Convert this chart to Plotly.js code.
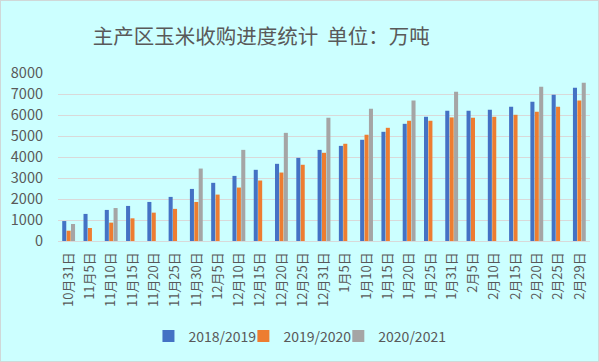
<!DOCTYPE html>
<html>
<head>
<meta charset="utf-8">
<script src="https://cdn.plot.ly/plotly-3.0.1.min.js"></script>
<style>
html,body{margin:0;padding:0;background:#ccffff;}
#chart{width:599px;height:362px;box-sizing:border-box;border:1px solid #d0d8d8;}
</style>
</head>
<body>
<div id="chart"></div>
<script>
const categories = ["10月31日","11月5日","11月10日","11月15日","11月20日","11月25日","11月30日","12月5日","12月10日","12月15日","12月20日","12月25日","12月31日","1月5日","1月10日","1月15日","1月20日","1月25日","1月31日","2月5日","2月10日","2月15日","2月20日","2月25日","2月29日"];
const s2018 = [950,1290,1480,1670,1860,2100,2480,2770,3100,3390,3675,3960,4340,4530,4820,5200,5580,5915,6200,6200,6250,6390,6630,6965,7300];
const s2019 = [490,620,875,1080,1350,1530,1860,2210,2545,2880,3260,3630,4200,4630,5060,5390,5725,5725,5885,5870,5915,6010,6150,6390,6690];
const s2020 = [810,null,1570,null,null,null,3450,null,4340,null,5150,null,5870,null,6300,null,6690,null,7110,null,null,null,7350,null,7540];
const seriesNames = ["2018/2019","2019/2020","2020/2021"];
const colors = ["#4472C4","#ED7D31","#A5A5A5"];

const font = "'Noto Sans CJK SC', 'Noto Sans', sans-serif";
const legendIds = ["legend","legend2","legend3"];
const traces = [s2018, s2019, s2020].map((v, i) => ({
  type: "bar",
  x: categories,
  y: v,
  name: seriesNames[i],
  legend: legendIds[i],
  marker: {color: colors[i]},
  hoverinfo: "x+y+name"
}));

const legendX = [0.247, 0.406, 0.565];
function mkLegend(x) {
  return {
    orientation: "h",
    x: x, xanchor: "left", xref: "container",
    y: 0.068, yanchor: "middle", yref: "container",
    font: {size: 14, color: "#595959"},
    itemwidth: 30,
    bgcolor: "rgba(0,0,0,0)"
  };
}

const layout = {
  width: 597, height: 360,
  paper_bgcolor: "#ccffff",
  plot_bgcolor: "#ccffff",
  margin: {l: 57, r: 8, t: 72, b: 120},
  font: {family: font, color: "#595959"},
  title: {
    text: "主产区玉米收购进度统计  单位：万吨",
    font: {size: 20.5, color: "#595959", family: font},
    x: 0.436, xanchor: "center", xref: "container",
    y: 0.9, yanchor: "middle", yref: "container"
  },
  barmode: "group",
  bargap: 0.38,
  bargroupgap: 0.08,
  xaxis: {
    type: "category",
    tickangle: -90,
    tickfont: {size: 13, color: "#595959"},
    showgrid: false,
    showline: true, linecolor: "#d9d9d9", linewidth: 1,
    ticks: "", ticklabelstandoff: 5
  },
  yaxis: {
    range: [0, 8000],
    dtick: 1000,
    tickfont: {size: 14.5, color: "#595959"},
    gridcolor: "#d9d9d9", gridwidth: 1,
    zeroline: false,
    showline: false,
    ticks: "",
    ticklabelstandoff: 14
  },
  legend: mkLegend(legendX[0]),
  legend2: mkLegend(legendX[1]),
  legend3: mkLegend(legendX[2]),
  showlegend: true
};

Plotly.newPlot("chart", traces, layout, {displayModeBar: false, staticPlot: true});
</script>
</body>
</html>
